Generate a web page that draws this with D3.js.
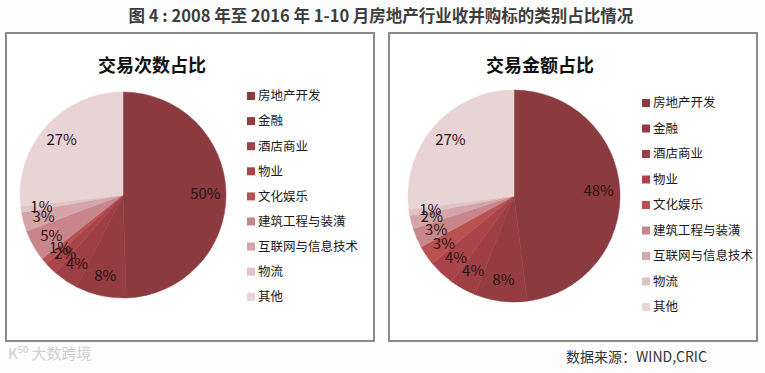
<!DOCTYPE html>
<html>
<head>
<meta charset="utf-8">
<script src="https://cdn.jsdelivr.net/npm/d3@7"></script>
<style>
  body { margin: 0; background: #fdfdfd; }
  text { font-family: "Noto Sans CJK SC", "Noto Sans", sans-serif; }
</style>
</head>
<body>
<div id="chart"></div>
<script>
// categories and values
var categories = ["房地产开发", "金融", "酒店商业", "物业", "文化娱乐", "建筑工程与装潢", "互联网与信息技术", "物流", "其他"];
var countShare = [50, 8, 4, 2, 1, 5, 3, 1, 27];   // 交易次数占比
var amountShare = [48, 8, 4, 4, 3, 3, 2, 1, 27];  // 交易金额占比
var colors = ["#8b3a3f", "#933c41", "#9e3f45", "#a9444a", "#b8514f", "#c8868b", "#d4a4a8", "#dfc3c5", "#e8d3d5"];

var width = 765, height = 373;

var svg = d3.select("#chart").append("svg")
    .attr("width", width)
    .attr("height", height);

// main title
svg.append("text")
    .attr("x", 381)
    .attr("y", 22)
    .attr("text-anchor", "middle")
    .style("font-size", "16.5px")
    .style("font-weight", "bold")
    .style("fill", "#3d3d3d")
    .text("图 4 : 2008 年至 2016 年 1-10 月房地产行业收并购标的类别占比情况");

var color = d3.scaleOrdinal().domain(categories).range(colors);

// one panel: box, title, pie, legend
function drawPanel(opts) {
  var g = svg.append("g");

  g.append("rect")
      .attr("x", opts.x)
      .attr("y", 33)
      .attr("width", 368)
      .attr("height", 308)
      .attr("fill", "#fff")
      .attr("stroke", "#8a8a8a")
      .attr("stroke-width", 2);

  g.append("text")
      .attr("x", opts.titleX)
      .attr("y", 72)
      .attr("text-anchor", "middle")
      .style("font-size", "18px")
      .style("font-weight", "bold")
      .style("fill", "#111")
      .text(opts.title);

  var data = categories.map(function(c, i) { return {name: c, value: opts.values[i]}; });

  var pie = d3.pie()
      .sort(null)
      .value(function(d) { return d.value; });

  var arc = d3.arc().innerRadius(0).outerRadius(opts.r);
  var labelArc = d3.arc().innerRadius(opts.r * 0.8).outerRadius(opts.r * 0.8);

  var pieG = g.append("g")
      .attr("transform", "translate(" + opts.cx + "," + opts.cy + ")");

  var slices = pie(data);

  pieG.selectAll("path.slice")
      .data(slices)
    .enter().append("path")
      .attr("class", "slice")
      .attr("d", arc)
      .attr("fill", function(d) { return color(d.data.name); })
      .attr("stroke", function(d) { return color(d.data.name); })
      .attr("stroke-width", 0.5);

  pieG.selectAll("text.lbl")
      .data(slices)
    .enter().append("text")
      .attr("class", "lbl")
      .attr("transform", function(d) { return "translate(" + labelArc.centroid(d) + ")"; })
      .attr("text-anchor", "middle")
      .attr("dy", "0.35em")
      .style("font-size", "15px")
      .style("fill", "#2a1414")
      .text(function(d) { return d.data.value + "%"; });

  // legend
  var legend = g.selectAll("g.legend")
      .data(categories)
    .enter().append("g")
      .attr("class", "legend")
      .attr("transform", function(d, i) {
        return "translate(" + opts.legendX + "," + (opts.legendY + i * opts.legendStep) + ")";
      });

  legend.append("rect")
      .attr("x", 0)
      .attr("y", -4)
      .attr("width", 8)
      .attr("height", 8)
      .attr("fill", function(d) { return color(d); });

  legend.append("text")
      .attr("x", 11)
      .attr("dy", "0.35em")
      .style("font-size", "12.5px")
      .style("fill", "#1a1a1a")
      .text(function(d) { return d; });
}

drawPanel({x: 6, title: "交易次数占比", titleX: 152, values: countShare,
           cx: 123, cy: 195, r: 103, legendX: 247, legendY: 96, legendStep: 25.1});

drawPanel({x: 389, title: "交易金额占比", titleX: 540, values: amountShare,
           cx: 514, cy: 196, r: 106, legendX: 642, legendY: 103, legendStep: 25.5});

// watermark and source
svg.append("text")
    .attr("x", 8)
    .attr("y", 359)
    .style("font-size", "15px")
    .style("fill", "#d0d0d0")
    .text("K⁵⁰ 大数跨境");

svg.append("text")
    .attr("x", 566)
    .attr("y", 362)
    .style("font-size", "14px")
    .style("fill", "#333")
    .text("数据来源：WIND,CRIC");
</script>
</body>
</html>
